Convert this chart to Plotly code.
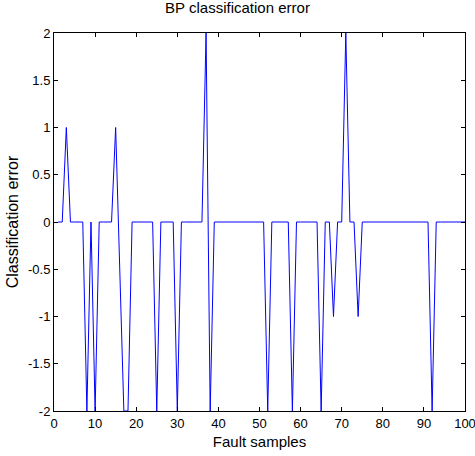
import plotly.graph_objects as go

# amostras de falha 1..100 e erro de classificacao
amostras = list(range(1, 101))
erro = [
    0, 0, 1, 0, 0, 0, 0, -2, 0, -2,
    0, 0, 0, 0, 1, -0.5, -2, -2, 0, 0,
    0, 0, 0, 0, -2, 0, 0, 0, 0, -2,
    0, 0, 0, 0, 0, 0, 2, -2, 0, 0,
    0, 0, 0, 0, 0, 0, 0, 0, 0, 0,
    0, -2, 0, 0, 0, 0, 0, -2, 0, 0,
    0, 0, 0, 0, -2, 0, 0, -1, 0, 0,
    2, 0, 0, -1, 0, 0, 0, 0, 0, 0,
    0, 0, 0, 0, 0, 0, 0, 0, 0, 0,
    0, -2, 0, 0, 0, 0, 0, 0, 0, 0,
]
xticks = list(range(0, 101, 10))
yticks = [-2, -1.5, -1, -0.5, 0, 0.5, 1, 1.5, 2]
ytick_labels = ["-2", "-1.5", "-1", "-0.5", "0", "0.5", "1", "1.5", "2"]

fig = go.Figure()
fig.add_trace(go.Scatter(
    x=amostras, y=erro, mode="lines",
    line=dict(color="#0000ff", width=1),
    showlegend=False,
))

eixo = dict(
    showline=True, linecolor="black", linewidth=1, mirror="ticks",
    ticks="inside", ticklen=4, tickcolor="black", tickwidth=1,
    showgrid=False, zeroline=False, automargin=False,
    ticklabeloverflow="allow",
    tickfont=dict(size=13, color="black"),
)

fig.update_xaxes(
    range=[0, 100], tickvals=xticks,
    title=dict(text="Fault samples", font=dict(size=15, color="black"), standoff=6),
    **eixo
)
fig.update_yaxes(
    range=[-2, 2], tickvals=yticks, ticktext=ytick_labels,
    title=dict(text="Classification error", font=dict(size=16, color="black"), standoff=5),
    **eixo
)

fig.update_layout(
    width=475, height=456,
    margin=dict(l=54, r=10, t=33, b=45),
    plot_bgcolor="white", paper_bgcolor="white",
    font=dict(family="Liberation Sans, Arial, sans-serif", color="black"),
    title=dict(text="BP classification error", x=0.5, xanchor="center",
               yref="container", y=1, yanchor="top", pad=dict(t=2),
               font=dict(size=15, color="black")),
)

# tira a margem padrao do body para a figura ficar no canto da janela
fig.write_html("out.html", config={"displayModeBar": False},
               post_script="document.body.style.margin='0';")
